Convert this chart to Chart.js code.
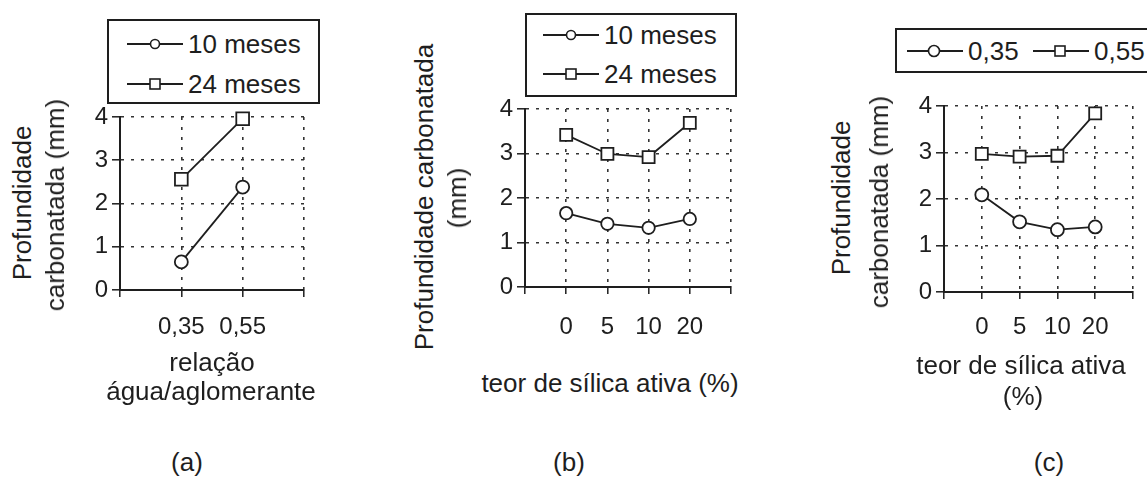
<!DOCTYPE html>
<html>
<head>
<meta charset="utf-8">
<script src="https://cdn.jsdelivr.net/npm/chart.js@4.4.0/dist/chart.umd.min.js"></script>
<style>
  body { margin: 0; width: 1147px; height: 478px; position: relative; overflow: hidden; background: #fff;
         font-family: "Liberation Sans", Arial, sans-serif; color: #1e1e1e; }
  canvas { position: absolute; }
  .t { position: absolute; white-space: nowrap; font-size: 26px; line-height: 1; transform: translate(-50%, -50%); }
  .v { position: absolute; white-space: nowrap; font-size: 26px; line-height: 1; transform: translate(-50%, -50%) rotate(-90deg); }
  .leg { position: absolute; border: 2px solid #1e1e1e; box-sizing: border-box; background: #fff; }
  .item { position: absolute; display: flex; align-items: center; font-size: 26px; line-height: 1; white-space: nowrap; transform: translateY(-50%); }
  .item svg { margin-right: 5px; }
</style>
</head>
<body>

<canvas id="chartA" width="260" height="270" style="left:60px;top:90px"></canvas>
<canvas id="chartB" width="280" height="270" style="left:470px;top:90px"></canvas>
<canvas id="chartC" width="257" height="280" style="left:890px;top:80px"></canvas>

<!-- legends -->
<div class="leg" style="left:107px;top:19px;width:213px;height:85px">
  <div class="item" style="left:18px;top:23px"><svg width="56" height="16"><line x1="0" y1="8" x2="56" y2="8" stroke="#1e1e1e" stroke-width="1.8"/><circle cx="28" cy="8" r="4.5" fill="#fff" stroke="#1e1e1e" stroke-width="1.6"/></svg>10 meses</div>
  <div class="item" style="left:18px;top:63px"><svg width="56" height="16"><line x1="0" y1="8" x2="56" y2="8" stroke="#1e1e1e" stroke-width="1.8"/><rect x="23" y="3" width="10" height="10" fill="#fff" stroke="#1e1e1e" stroke-width="1.6"/></svg>24 meses</div>
</div>
<div class="leg" style="left:525px;top:13px;width:212px;height:84px">
  <div class="item" style="left:16px;top:20px"><svg width="56" height="16"><line x1="0" y1="8" x2="56" y2="8" stroke="#1e1e1e" stroke-width="1.8"/><circle cx="28" cy="8" r="4.5" fill="#fff" stroke="#1e1e1e" stroke-width="1.6"/></svg>10 meses</div>
  <div class="item" style="left:16px;top:59px"><svg width="56" height="16"><line x1="0" y1="8" x2="56" y2="8" stroke="#1e1e1e" stroke-width="1.8"/><rect x="23" y="3" width="10" height="10" fill="#fff" stroke="#1e1e1e" stroke-width="1.6"/></svg>24 meses</div>
</div>
<div class="leg" style="left:895px;top:28px;width:270px;height:45px">
  <div class="item" style="left:10px;top:21px"><svg width="56" height="16"><line x1="0" y1="8" x2="56" y2="8" stroke="#1e1e1e" stroke-width="1.8"/><circle cx="27" cy="8" r="5.5" fill="#fff" stroke="#1e1e1e" stroke-width="1.6"/></svg>0,35</div>
  <div class="item" style="left:136px;top:21px"><svg width="56" height="16"><line x1="0" y1="8" x2="56" y2="8" stroke="#1e1e1e" stroke-width="1.8"/><rect x="22" y="3" width="10" height="10" fill="#fff" stroke="#1e1e1e" stroke-width="1.6"/></svg>0,55</div>
</div>

<!-- axis titles -->
<div class="v" style="left:22px;top:203px">Profundidade</div>
<div class="v" style="left:55px;top:205px">carbonatada (mm)</div>
<div class="v" style="left:424px;top:197px">Profundidade carbonatada</div>
<div class="v" style="left:457px;top:198px">(mm)</div>
<div class="v" style="left:841px;top:198px">Profundidade</div>
<div class="v" style="left:879px;top:202px">carbonatada (mm)</div>

<div class="t" style="left:212px;top:362px">relação</div>
<div class="t" style="left:211px;top:391px">água/aglomerante</div>
<div class="t" style="left:610px;top:383px">teor de sílica ativa (%)</div>
<div class="t" style="left:1021px;top:365px">teor de sílica ativa</div>
<div class="t" style="left:1023px;top:396px">(%)</div>

<div class="t" style="left:187px;top:462px">(a)</div>
<div class="t" style="left:569px;top:462px">(b)</div>
<div class="t" style="left:1049px;top:462px">(c)</div>

<script>
// (a) relação água/aglomerante
const catsA = ['0,35', '0,55'];
const a10meses = [0.65, 2.38];
const a24meses = [2.56, 3.96];

// (b) teor de sílica ativa
const catsB = ['0', '5', '10', '20'];
const b10meses = [1.66, 1.42, 1.33, 1.53];
const b24meses = [3.42, 2.99, 2.92, 3.69];

// (c) teor de sílica ativa, por relação a/agl
const catsC = ['0', '5', '10', '20'];
const c035 = [2.09, 1.51, 1.34, 1.40];
const c055 = [2.97, 2.91, 2.93, 3.84];

const yTicks = [0, 1, 2, 3, 4];

const ink = '#1e1e1e';
const tickFont = { family: '"Liberation Sans", Arial, sans-serif', size: 24 };

function series(values, style, radius) {
  return {
    data: values.map((v, i) => ({ x: i + 1, y: v })),
    borderColor: ink,
    borderWidth: 1.8,
    pointStyle: style,
    pointRadius: radius,
    pointBackgroundColor: '#fff',
    pointBorderColor: ink,
    pointBorderWidth: 1.8,
    clip: false
  };
}

function panel(id, cats, s1, s2, box) {
  new Chart(document.getElementById(id), {
    type: 'line',
    data: {
      datasets: [
        series(s1, 'circle', box.r),
        series(s2, 'rect', box.sq)
      ]
    },
    options: {
      responsive: false,
      animation: false,
      layout: { padding: { top: box.top, right: box.right, left: 0, bottom: 0 } },
      plugins: { legend: { display: false }, tooltip: { enabled: false } },
      scales: {
        x: {
          type: 'linear',
          min: 0,
          max: cats.length + 1,
          afterFit: s => { s.height = box.xh; },
          ticks: {
            stepSize: 1,
            autoSkip: false,
            maxRotation: 0,
            padding: box.xpad,
            font: tickFont,
            color: ink,
            callback: v => cats[v - 1] || ''
          },
          grid: { color: '#333', lineWidth: 1.6, tickColor: ink, tickLength: 7, tickWidth: 1.5, tickBorderDash: [] },
          border: { color: ink, width: 2, dash: [3, 7] }
        },
        y: {
          min: 0,
          max: 4,
          afterFit: s => { s.width = box.yw; },
          afterBuildTicks: s => { s.ticks = yTicks.map(v => ({ value: v })); },
          ticks: { padding: 4, font: tickFont, color: ink },
          grid: { color: '#333', lineWidth: 1.6, tickColor: ink, tickLength: 8, tickWidth: 1.5, tickBorderDash: [] },
          border: { color: ink, width: 2, dash: [3, 7] }
        }
      }
    }
  });
}

panel('chartA', catsA, a10meses, a24meses, { top: 27, right: 15, xh: 70, yw: 60, xpad: 16, r: 6.5, sq: 9 });
panel('chartB', catsB, b10meses, b24meses, { top: 19, right: 16, xh: 73, yw: 55, xpad: 19, r: 6.2, sq: 8.5 });
panel('chartC', catsC, c035, c055, { top: 26, right: 10, xh: 68, yw: 54, xpad: 14, r: 6.5, sq: 8.5 });
</script>
</body>
</html>
